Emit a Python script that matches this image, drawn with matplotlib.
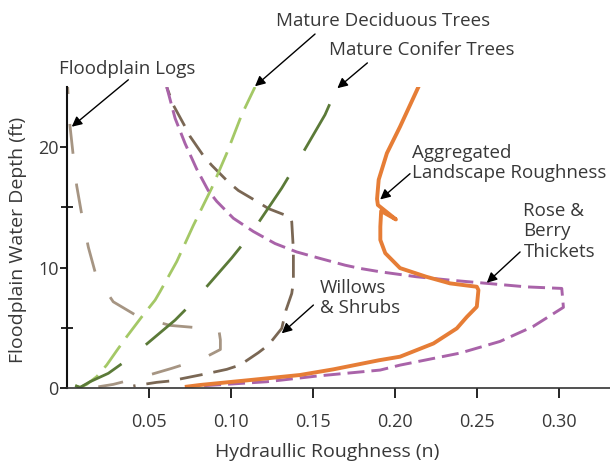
import matplotlib
matplotlib.use("Agg")
import matplotlib.pyplot as plt

plt.rcParams['font.family'] = ['Open Sans', 'DejaVu Sans']
plt.rcParams['lines.scale_dashes'] = False

# roughness (n) vs depth (ft) for each vegetation type
logs_n = [0.0004, 0.0018, 0.0038, 0.0059, 0.009, 0.013, 0.018, 0.0282, 0.0435, 0.0628,
          0.080, 0.0925, 0.0935, 0.0935, 0.083, 0.0638, 0.0465, 0.0282, 0.0191]
logs_d = [25.0, 21.8, 19.3, 16.8, 14.4, 11.7, 9.2, 7.16, 5.92, 5.2,
          5.0, 4.9, 4.0, 3.2, 2.46, 1.63, 0.94, 0.3, 0.1]

willow_n = [0.0608, 0.0648, 0.072, 0.075, 0.0831, 0.0882, 0.0984, 0.1045, 0.1157, 0.1228,
            0.136, 0.137, 0.138, 0.138, 0.137, 0.1335, 0.1309, 0.1228, 0.1166, 0.1055,
            0.0974, 0.0841, 0.076, 0.0628, 0.0547, 0.0404]
willow_d = [25.0, 23.5, 21.7, 20.9, 19.3, 18.5, 17.1, 16.4, 15.5, 14.9,
            14.2, 13.8, 11.45, 8.8, 7.85, 6.47, 4.95, 3.57, 2.93, 1.91,
            1.55, 1.16, 0.94, 0.58, 0.47, 0.17]

decid_n = [0.005, 0.008, 0.012, 0.0181, 0.0242, 0.0303, 0.0364, 0.0455, 0.0537, 0.0567,
           0.0669, 0.077, 0.0882, 0.0974, 0.1065, 0.1146]
decid_d = [0.2, 0.05, 0.3, 0.94, 1.91, 3.1, 4.26, 5.9, 7.3, 8.0,
           10.5, 13.5, 16.6, 19.5, 22.7, 25.0]

conif_n = [0.005, 0.008, 0.014, 0.0252, 0.0394, 0.0659, 0.078, 0.1004, 0.1116, 0.1309,
           0.140, 0.1573, 0.1644]
conif_d = [0.2, 0.05, 0.52, 1.22, 2.6, 5.64, 7.3, 10.8, 12.7, 16.6,
           18.65, 22.7, 24.9]

rose_n = [0.0608, 0.0659, 0.072, 0.079, 0.0861, 0.0913, 0.1014, 0.1136, 0.1268, 0.140,
          0.1543, 0.1695, 0.1787, 0.191, 0.213, 0.2335, 0.256, 0.280, 0.3016, 0.3026,
          0.284, 0.264, 0.2396, 0.203, 0.1909, 0.1522, 0.1218, 0.0811]
rose_d = [25.0, 22.4, 20.3, 18.2, 16.4, 15.5, 14.1, 13.0, 12.0, 11.3,
          10.76, 10.2, 9.93, 9.65, 9.24, 8.96, 8.69, 8.4, 8.27, 6.7,
          5.1, 3.87, 2.9, 1.9, 1.49, 0.99, 0.52, 0.17]

agg_n = [0.2142, 0.203, 0.195, 0.190, 0.189, 0.1895, 0.2005, 0.1915, 0.191, 0.191,
         0.194, 0.203, 0.219, 0.2335, 0.2498, 0.2508, 0.2498, 0.2437, 0.2376, 0.2234,
         0.203, 0.19, 0.1624, 0.142, 0.1116, 0.0811, 0.073]
agg_d = [25.0, 21.7, 19.5, 17.3, 15.7, 15.2, 14.0, 14.7, 13.4, 12.3,
         11.2, 9.96, 9.24, 8.69, 8.41, 8.13, 6.75, 5.9, 4.95, 3.7,
         2.6, 2.3, 1.55, 1.08, 0.66, 0.25, 0.11]

x_ticks = [0.05, 0.10, 0.15, 0.20, 0.25, 0.30]
x_tick_labels = ['0.05', '0.10', '0.15', '0.20', '0.25', '0.30']
y_ticks = [0, 10, 20]

# label text, text position, arrow tail, arrow tip
labels = ['Floodplain Logs', 'Mature Deciduous Trees', 'Mature Conifer Trees',
          'Aggregated\nLandscape Roughness', 'Rose &\nBerry\nThickets', 'Willows\n& Shrubs']
label_pos = [(0.0369, 26.5), (0.1927, 30.5), (0.2165, 28.05),
             (0.2102, 18.7), (0.2782, 13.0), (0.1543, 7.51)]
label_ha = ['center', 'center', 'center', 'left', 'left', 'left']
arrow_tail = [(0.0374, 25.6), (0.1512, 29.4), (0.1831, 27.0),
              (0.2091, 17.8), (0.2762, 11.3), (0.1502, 6.89)]
arrow_tip = [(0.0029, 21.7), (0.1146, 25.06), (0.1648, 24.9),
             (0.1909, 15.66), (0.2559, 8.74), (0.1309, 4.54)]

PX = 0.72  # points per pixel at dpi 100
text_col = '#383838'

fig = plt.figure(figsize=(6.1, 4.62), dpi=100)
ax = fig.add_axes([67 / 610, 74 / 462, 1 - 67 / 610, 301 / 462])

ax.plot(logs_n, logs_d, color='#a69583', lw=2.0, ls=(23 * PX, (30 * PX, 30 * PX)))
ax.plot(willow_n, willow_d, color='#7a6754', lw=2.0, ls=(14 * PX, (23 * PX, 11 * PX)))
ax.plot(decid_n, decid_d, color='#a4c866', lw=2.0, ls=(0, (27 * PX, 10 * PX)))
ax.plot(conif_n, conif_d, color='#5b7a38', lw=2.0, ls=(0, (53 * PX, 31 * PX)))
ax.plot(rose_n, rose_d, color='#a963a9', lw=2.1, ls=(0, (17 * PX, 7 * PX)))
ax.plot(agg_n, agg_d, color='#e67d36', lw=2.8, solid_joinstyle='round')

for txt, pos, ha in zip(labels, label_pos, label_ha):
    ax.text(pos[0], pos[1], txt, ha=ha, va='center', fontsize=13.5,
            color=text_col, linespacing=1.15, clip_on=False)
for tail, tip in zip(arrow_tail, arrow_tip):
    ax.annotate('', xy=tip, xytext=tail, annotation_clip=False,
                arrowprops=dict(arrowstyle='-|>', color='black', lw=1.0,
                                mutation_scale=15, shrinkA=0, shrinkB=0))

ax.set_xlim(0, 0.331)
ax.set_ylim(0, 25)
ax.set_xticks(x_ticks)
ax.set_xticklabels(x_tick_labels)
ax.set_yticks(y_ticks)
ax.set_yticks([5, 15], minor=True)
ax.tick_params(axis='x', direction='out', length=7, width=1.2, pad=11,
               labelsize=13, labelcolor=text_col)
ax.tick_params(axis='y', which='major', direction='out', length=5, width=1.2, pad=1,
               labelsize=13, labelcolor=text_col)
ax.tick_params(axis='y', which='minor', direction='inout', length=8, width=1.2)

for side in ['top', 'right']:
    ax.spines[side].set_visible(False)
ax.spines['left'].set_linewidth(1.5)
ax.spines['bottom'].set_linewidth(1.2)
ax.spines['left'].set_color('#111111')
ax.spines['bottom'].set_color('#333333')

fig.text(18 / 610, 1 - 240 / 462, 'Floodplain Water Depth (ft)', rotation=90,
         ha='center', va='center', fontsize=14, color=text_col)
fig.text(327 / 610, 1 - 452 / 462, 'Hydraullic Roughness (n)',
         ha='center', va='center', fontsize=14, color=text_col)

fig.savefig('out.png', dpi=100)
